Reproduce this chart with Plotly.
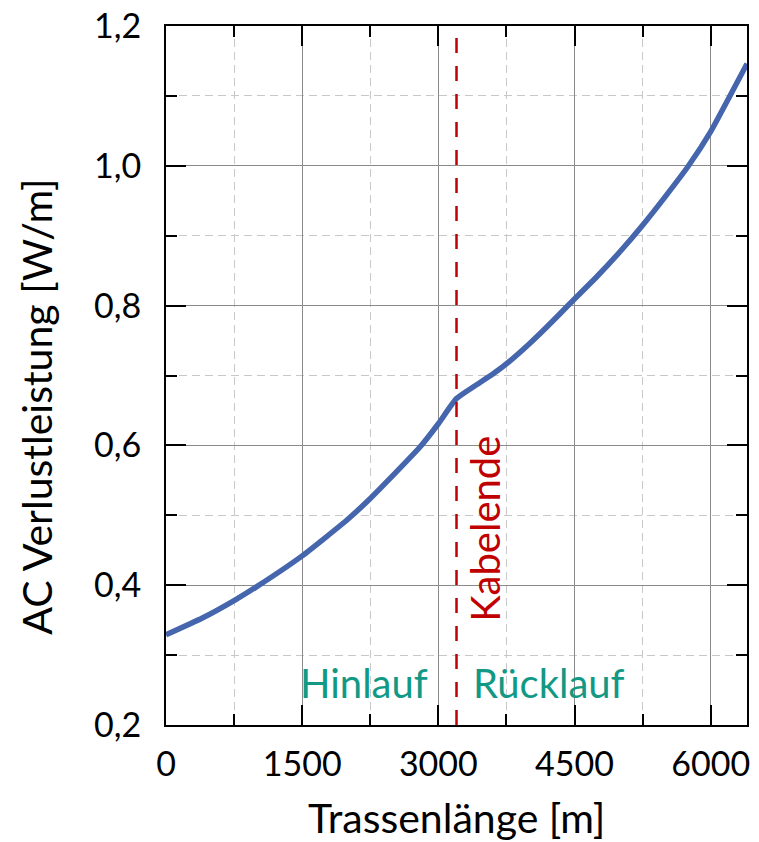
import plotly.graph_objects as go

# Data
trassenlaenge_m = [0, 400, 750, 1000, 1500, 2000, 2250, 2500, 2800, 3000, 3200,
                   3400, 3600, 3800, 4000, 4200, 4450, 4750, 5000, 5250, 5500, 5750, 6000, 6200, 6400]
verlust_w_per_m = [0.329, 0.353, 0.378, 0.398, 0.442, 0.494, 0.524, 0.557, 0.598, 0.631, 0.667,
                   0.685, 0.702, 0.722, 0.745, 0.770, 0.803, 0.842, 0.877, 0.915, 0.956, 0.999, 1.049, 1.097, 1.146]

kabelende_m = 3200

x_tickvals = [0, 1500, 3000, 4500, 6000]
x_ticktext = ["0", "1500", "3000", "4500", "6000"]
x_minorvals = [750, 2250, 3750, 5250]
y_tickvals = [0.2, 0.4, 0.6, 0.8, 1.0, 1.2]
y_ticktext = ["0,2", "0,4", "0,6", "0,8", "1,0", "1,2"]
y_minorvals = [0.3, 0.5, 0.7, 0.9, 1.1]

FONT = "Lato, Carlito, Calibri, sans-serif"
TEAL = "#129985"
RED = "#C00000"

fig = go.Figure()
fig.add_trace(go.Scatter(x=trassenlaenge_m, y=verlust_w_per_m, mode="lines",
                         line=dict(color="#4565AD", width=5.5, shape="spline", smoothing=0.5),
                         showlegend=False, hoverinfo="skip"))

fig.add_shape(type="line", x0=kabelende_m, x1=kabelende_m, y0=0.2, y1=1.2,
              xref="x", yref="y", line=dict(color=RED, width=2.5, dash="15px,13px"))

axis_common = dict(showline=True, linecolor="black", linewidth=2, mirror="allticks",
                   ticks="inside", ticklen=20, tickwidth=2, tickcolor="black",
                   showgrid=True, gridcolor="#8a8a8a", gridwidth=1, zeroline=False,
                   automargin=False, ticklabeloverflow="allow",
                   tickfont=dict(family=FONT, size=34, color="black"))

fig.update_xaxes(range=[0, 6400], tickmode="array", tickvals=x_tickvals, ticktext=x_ticktext,
                 ticklabelstandoff=8,
                 minor=dict(tickmode="array", tickvals=x_minorvals, ticks="inside", ticklen=11,
                            tickwidth=2, tickcolor="black", showgrid=True,
                            gridcolor="#c8c8c8", griddash="8px,5px", gridwidth=1),
                 **axis_common)
fig.update_yaxes(range=[0.2, 1.2], tickmode="array", tickvals=y_tickvals, ticktext=y_ticktext,
                 ticklabelstandoff=16,
                 minor=dict(tickmode="array", tickvals=y_minorvals, ticks="inside", ticklen=11,
                            tickwidth=2, tickcolor="black", showgrid=True,
                            gridcolor="#c8c8c8", griddash="8px,5px", gridwidth=1),
                 **axis_common)

annos = [
    dict(text="AC Verlustleistung [W/m]", x=-0.2225, y=0.455, xref="paper", yref="paper",
         textangle=-90, showarrow=False, xanchor="center", yanchor="middle",
         font=dict(family=FONT, size=41, color="black")),
    dict(text="Trassenlänge [m]", x=0.5, y=-0.132, xref="paper", yref="paper",
         showarrow=False, xanchor="center", yanchor="middle",
         font=dict(family=FONT, size=41, color="black")),
    dict(text="Hinlauf", x=2185, y=0.26, xref="x", yref="y", showarrow=False,
         xanchor="center", yanchor="middle", font=dict(family=FONT, size=40, color=TEAL)),
    dict(text="Rücklauf", x=4216, y=0.26, xref="x", yref="y", showarrow=False,
         xanchor="center", yanchor="middle", font=dict(family=FONT, size=40, color=TEAL)),
    dict(text="Kabelende", x=3520, y=0.48, xref="x", yref="y", showarrow=False, textangle=-90,
         xanchor="center", yanchor="middle", font=dict(family=FONT, size=40, color=RED)),
]

# The page body adds an 8px offset; size the figure so it fits the 759x842 window.
fig.update_layout(width=751, height=834, margin=dict(l=158, r=12, t=18, b=117),
                  plot_bgcolor="white", paper_bgcolor="white", annotations=annos,
                  font=dict(family=FONT))

fig.write_html("out.html")
